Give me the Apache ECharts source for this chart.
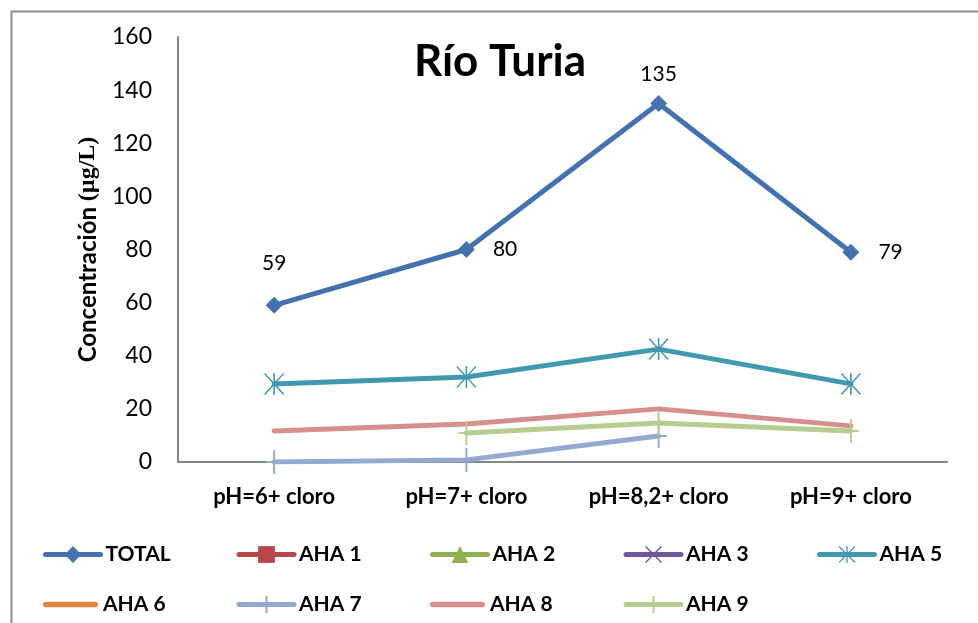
<!DOCTYPE html>
<html>
<head>
<meta charset="utf-8">
<script src="https://cdn.jsdelivr.net/npm/echarts@6/dist/echarts.min.js"></script>
<style>
  html, body { margin: 0; padding: 0; background: #fff; }
  #chart { width: 978px; height: 623px; }
</style>
</head>
<body>
<div id="chart"></div>
<script>
// Categories (treatment conditions)
const categories = ['pH=6+ cloro', 'pH=7+ cloro', 'pH=8,2+ cloro', 'pH=9+ cloro'];

// Concentrations in µg/L per series ('-' = not measured)
const total = [59, 80, 135, 79];
const aha1 = [];
const aha2 = [];
const aha3 = [];
const aha5 = [29.4, 32, 42.5, 29.4];
const aha6 = [];
const aha7 = [0, 0.8, 9.8, '-'];
const aha8 = [11.7, 14.3, 20, 13.6];
const aha9 = ['-', 10.9, 14.7, 11.7];

// Y axis ticks
const yMin = 0, yMax = 160, yStep = 20;

// Label placement for the TOTAL values
const totalLabelPos = [
  { position: 'top', distance: 23 },
  { position: 'right', distance: 18 },
  { position: 'top', distance: 10 },
  { position: 'right', distance: 19 }
];

const FONT = 'Lato';

// Custom marker shapes
const asteriskPath = 'path://M46,0H54V100H46Z M0,5L5,0L100,95L95,100Z M95,0L100,5L5,100L0,95Z';
const crossPath = 'path://M0,6L6,0L100,94L94,100Z M94,0L100,6L6,100L0,94Z';
const plusPath = 'path://M44,0H56V100H44Z M0,46H100V54H0Z';
const barIcon = 'path://M3,0H97A3,3 0 0 1 97,10H3A3,3 0 0 1 3,0Z';

function lineSeries(name, data, color, symbol, symbolSize, extra) {
  return Object.assign({
    name: name,
    type: 'line',
    data: data,
    symbol: symbol,
    symbolSize: symbolSize,
    showAllSymbol: true,
    connectNulls: false,
    lineStyle: { color: color, width: 5, cap: 'round', join: 'round' },
    itemStyle: { color: color },
    emphasis: { disabled: true },
    animation: false
  }, extra || {});
}

const series = [
  lineSeries('TOTAL', total.map((v, i) => ({
    value: v,
    label: Object.assign({ show: true }, totalLabelPos[i])
  })), '#4472AE', 'diamond', 17, {
    label: { color: '#000', fontFamily: FONT, fontSize: 21 },
    z: 10
  }),
  lineSeries('AHA 1', aha1, '#B9474A', 'rect', 13),
  lineSeries('AHA 2', aha2, '#8FB04F', 'triangle', 14),
  lineSeries('AHA 3', aha3, '#7356A0', crossPath, 14),
  lineSeries('AHA 5', aha5, '#4198AF', asteriskPath, [20, 22]),
  lineSeries('AHA 6', aha6, '#E0853A', 'none', 0),
  lineSeries('AHA 7', aha7, '#93A9D2', plusPath, [16, 24]),
  lineSeries('AHA 8', aha8, '#D68F8D', 'none', 0),
  lineSeries('AHA 9', aha9, '#B6CC91', plusPath, [16, 24])
];

// Legend: two rows of fixed-width columns, one legend box per entry
const legendRows = [
  ['TOTAL', 'AHA 1', 'AHA 2', 'AHA 3', 'AHA 5'],
  ['AHA 6', 'AHA 7', 'AHA 8', 'AHA 9']
];
const plainLineEntries = ['AHA 6', 'AHA 8'];
const legendLeft = 43, legendColWidth = 193.5;
const legendTops = [544, 594];

const legends = [];
legendRows.forEach((row, r) => {
  row.forEach((name, c) => {
    legends.push({
      orient: 'horizontal',
      padding: 0,
      left: legendLeft + c * legendColWidth,
      top: legendTops[r],
      itemWidth: 55,
      itemHeight: 21,
      selectedMode: false,
      lineStyle: { width: 5 },
      textStyle: { fontFamily: FONT, fontWeight: 'bold', fontSize: 21, color: '#000' },
      data: [plainLineEntries.indexOf(name) >= 0 ? { name: name, icon: barIcon } : name]
    });
  });
});

const option = {
  backgroundColor: '#fff',
  title: {
    text: 'Río Turia',
    left: 495, top: 35,
    textAlign: 'center',
    textStyle: { fontFamily: FONT, fontWeight: 'bold', fontSize: 44, color: '#000' }
  },
  grid: { left: 178, right: 31, top: 37, bottom: 161, containLabel: false },
  xAxis: {
    type: 'category',
    data: categories,
    boundaryGap: true,
    axisLine: { lineStyle: { color: '#868686', width: 2 } },
    axisTick: { show: false },
    splitLine: { show: false },
    axisLabel: {
      fontFamily: FONT, fontWeight: 'bold', fontSize: 22, color: '#000', margin: 24
    }
  },
  yAxis: {
    type: 'value',
    min: yMin, max: yMax, interval: yStep,
    name: '{a|Concentración }{b|(µg/L)}',
    nameLocation: 'middle',
    nameGap: 78,
    nameRotate: 90,
    nameTextStyle: {
      rich: {
        a: { fontFamily: FONT, fontWeight: 'bold', fontSize: 24, color: '#000' },
        b: { fontFamily: 'Liberation Serif', fontWeight: 'bold', fontSize: 24, color: '#000' }
      }
    },
    axisLine: { show: true, lineStyle: { color: '#868686', width: 2 } },
    axisTick: { show: false },
    splitLine: { show: false },
    axisLabel: { fontFamily: FONT, fontSize: 23, color: '#000', margin: 26 }
  },
  legend: legends,
  graphic: [{
    type: 'rect',
    left: 9, top: 9,
    shape: { width: 1000, height: 700 },
    style: { fill: 'none', stroke: '#8C8C8C', lineWidth: 2 },
    silent: true,
    z: -10
  }],
  series: series
};

const chart = echarts.init(document.getElementById('chart'), null, { renderer: 'canvas' });
chart.setOption(option);
</script>
</body>
</html>
